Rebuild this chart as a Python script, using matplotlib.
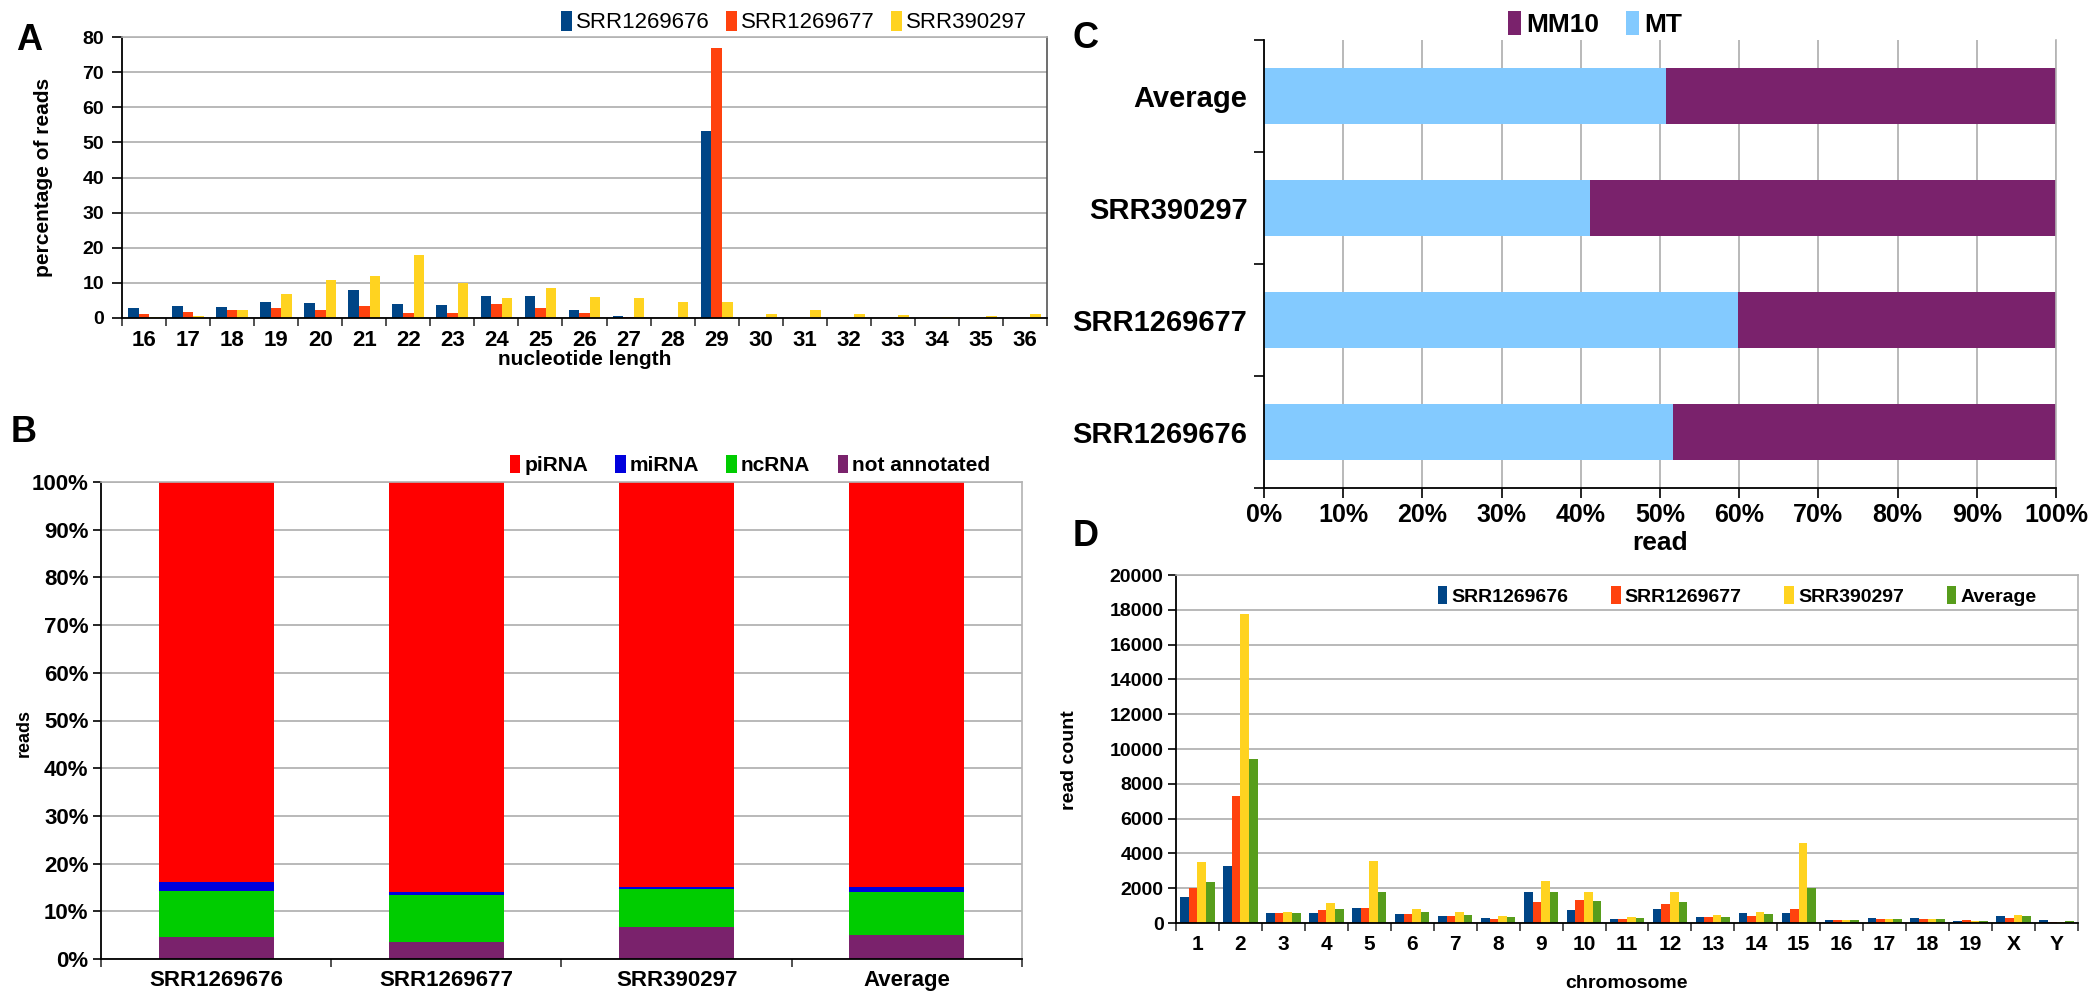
import matplotlib
matplotlib.use("Agg")
import matplotlib.pyplot as plt
import numpy as np
from matplotlib.patches import Patch

plt.rcParams["font.family"] = ["Liberation Sans", "DejaVu Sans"]
plt.rcParams["font.weight"] = "bold"

# ---- data -------------------------------------------------------------
samples = ["SRR1269676", "SRR1269677", "SRR390297"]

# A: read length distribution (% of reads)
lengths = [str(n) for n in range(16, 37)]
len_1269676 = [2.9, 3.3, 3.0, 4.6, 4.3, 7.9, 4.1, 3.6, 6.4, 6.3, 2.3, 0.7, 0, 53.3,
               0, 0, 0, 0, 0, 0, 0]
len_1269677 = [1.2, 1.6, 2.2, 2.9, 2.2, 3.3, 1.5, 1.4, 3.9, 2.8, 1.5, 0.3, 0, 77.0,
               0, 0, 0, 0, 0, 0, 0]
len_390297 = [0.3, 0.6, 2.2, 6.9, 10.9, 12.0, 18.0, 10.0, 5.8, 8.5, 5.9, 5.8, 4.5, 4.5,
              1.1, 2.4, 1.0, 0.9, 0.3, 0.7, 1.2]

# B: annotation shares (%)
annot_groups = ["SRR1269676", "SRR1269677", "SRR390297", "Average"]
not_annotated = [4.7, 3.5, 6.7, 5.0]
ncrna = [9.6, 9.9, 8.0, 9.1]
mirna = [1.8, 0.7, 0.3, 0.9]
pirna = [83.9, 85.9, 85.0, 85.0]

# C: MT vs MM10 (%)
map_groups = ["SRR1269676", "SRR1269677", "SRR390297", "Average"]
mt_share = [51.6, 59.8, 41.2, 50.8]
mm10_share = [48.4, 40.2, 58.8, 49.2]

# D: read count per chromosome
chromosomes = [str(n) for n in range(1, 20)] + ["X", "Y"]
chr_1269676 = [1470, 3290, 575, 575, 880, 500, 380, 305, 1760, 765, 250, 820, 345,
               555, 555, 170, 270, 290, 135, 420, 190]
chr_1269677 = [1990, 7300, 575, 725, 880, 535, 380, 230, 1205, 1300, 250, 1090, 345,
               400, 785, 190, 230, 210, 155, 290, 60]
chr_390297 = [3480, 17780, 650, 1150, 3560, 800, 650, 420, 2390, 1780, 365, 1780, 440,
              650, 4610, 190, 210, 230, 135, 440, 40]
chr_average = [2330, 9445, 590, 820, 1780, 610, 460, 325, 1800, 1280, 290, 1225, 365,
               535, 1990, 190, 250, 250, 135, 380, 115]

# ---- style ------------------------------------------------------------
BLUE, RED, YELLOW, GREEN = "#004586", "#ff420e", "#ffd320", "#579d1c"
PI_RED, MI_BLUE, NC_GREEN, PURPLE = "#ff0000", "#0000dd", "#00cc00", "#7a226c"
MT_BLUE = "#83caff"
GRID = "#b3b3b3"

W, H = 2093, 994
fig = plt.figure(figsize=(W / 100, H / 100), dpi=100)


def box(left, right, top, bottom):
    return [left / W, 1 - bottom / H, (right - left) / W, (bottom - top) / H]


def frame(ax, right_color=GRID):
    ax.set_axisbelow(True)
    for s in ("left", "bottom"):
        ax.spines[s].set_color("black")
        ax.spines[s].set_linewidth(1.3)
    ax.spines["top"].set_color(GRID)
    ax.spines["right"].set_color(right_color)
    ax.spines["top"].set_linewidth(1.2)
    ax.spines["right"].set_linewidth(1.2)


def cat_ticks(ax, n, labels, size, pad):
    x = np.arange(n)
    ax.set_xticks(x)
    ax.set_xticklabels(labels, fontsize=size, fontweight="bold")
    ax.set_xticks(np.arange(n + 1) - 0.5, minor=True)
    ax.tick_params(axis="x", which="major", length=0, pad=pad)
    ax.tick_params(axis="x", which="minor", length=6, width=1.2, color="#333333")
    ax.set_xlim(-0.5, n - 0.5)


def sq_handles(colors, names):
    return [Patch(facecolor=c, edgecolor="none", label=n) for c, n in zip(colors, names)]


# ---- A ----------------------------------------------------------------
axA = fig.add_axes(box(122, 1047, 37, 318))
xa = np.arange(len(lengths))
wa = 0.24
for i, (vals, col) in enumerate([(len_1269676, BLUE), (len_1269677, RED),
                                 (len_390297, YELLOW)]):
    axA.bar(xa + (i - 1) * wa, vals, wa, color=col)
axA.set_ylim(0, 80)
axA.set_yticks(range(0, 81, 10))
axA.tick_params(axis="y", labelsize=14, length=7, width=1.2, pad=6)
axA.yaxis.grid(True, color=GRID, lw=1.3)
cat_ticks(axA, len(lengths), lengths, 16, 9)
frame(axA, right_color="#555555")
fig.text(44 / W, 1 - 177 / H, "percentage of reads", rotation=90, ha="center",
         va="center", fontsize=15)
fig.text(585 / W, 1 - 360 / H, "nucleotide length", ha="center", va="center",
         fontsize=15)
fig.legend(handles=sq_handles([BLUE, RED, YELLOW], samples), loc="center",
           bbox_to_anchor=(794 / W, 1 - 22 / H), ncol=3, frameon=False,
           prop={"size": 16, "weight": "normal"}, handlelength=0.5,
           handleheight=1.0, handletextpad=0.2, columnspacing=0.7,
           borderpad=0)

# ---- B ----------------------------------------------------------------
axB = fig.add_axes(box(101, 1022, 482, 959))
xb = np.arange(len(annot_groups))
bottom = np.zeros(len(annot_groups))
for vals, col in [(not_annotated, PURPLE), (ncrna, NC_GREEN), (mirna, MI_BLUE),
                  (pirna, PI_RED)]:
    axB.bar(xb, vals, 0.5, bottom=bottom, color=col)
    bottom += np.array(vals)
axB.set_ylim(0, 100)
axB.set_yticks(range(0, 101, 10))
axB.set_yticklabels([f"{v}%" for v in range(0, 101, 10)])
axB.tick_params(axis="y", labelsize=16, length=6, width=1.2, pad=3)
axB.yaxis.grid(True, color=GRID, lw=1.3)
cat_ticks(axB, len(annot_groups), annot_groups, 16, 8)
frame(axB)
fig.text(24 / W, 1 - 733 / H, "reads", rotation=90, ha="center", va="center",
         fontsize=13)
fig.legend(handles=sq_handles([PI_RED, MI_BLUE, NC_GREEN, PURPLE],
                              ["piRNA", "miRNA", "ncRNA", "not annotated"]),
           loc="center", bbox_to_anchor=(750 / W, 1 - 465 / H), ncol=4,
           frameon=False, prop={"size": 15, "weight": "bold"}, handlelength=0.5,
           handleheight=1.0, handletextpad=0.2, columnspacing=1.3, borderpad=0)

# ---- C ----------------------------------------------------------------
axC = fig.add_axes(box(1264, 2056, 40, 488))
yc = np.arange(len(map_groups))
axC.barh(yc, mt_share, 0.5, color=MT_BLUE)
axC.barh(yc, mm10_share, 0.5, left=mt_share, color=PURPLE)
axC.set_xlim(0, 100)
axC.set_xticks(range(0, 101, 10))
axC.set_xticklabels([f"{v}%" for v in range(0, 101, 10)])
axC.tick_params(axis="x", labelsize=18, length=7, width=1.2, pad=4)
axC.xaxis.grid(True, color=GRID, lw=1.3)
axC.set_yticks(yc)
axC.set_yticklabels(map_groups, fontsize=21, fontweight="bold")
axC.set_yticks(np.arange(len(map_groups) + 1) - 0.5, minor=True)
axC.tick_params(axis="y", which="major", length=0, pad=12)
axC.tick_params(axis="y", which="minor", length=7, width=1.2)
axC.set_ylim(-0.5, len(map_groups) - 0.5)
frame(axC)
axC.spines["top"].set_visible(False)
fig.text(1660 / W, 1 - 543 / H, "read", ha="center", va="center", fontsize=19)
fig.legend(handles=sq_handles([PURPLE, MT_BLUE], ["MM10", "MT"]), loc="center",
           bbox_to_anchor=(1595 / W, 1 - 24 / H), ncol=2, frameon=False,
           prop={"size": 19, "weight": "bold"}, handlelength=0.5,
           handleheight=1.0, handletextpad=0.2, columnspacing=1.0, borderpad=0)

# ---- D ----------------------------------------------------------------
axD = fig.add_axes(box(1176, 2078, 575, 923))
xd = np.arange(len(chromosomes))
wd = 0.2
for i, (vals, col) in enumerate([(chr_1269676, BLUE), (chr_1269677, RED),
                                 (chr_390297, YELLOW), (chr_average, GREEN)]):
    axD.bar(xd + (i - 1.5) * wd, vals, wd, color=col)
axD.set_ylim(0, 20000)
axD.set_yticks(range(0, 20001, 2000))
axD.tick_params(axis="y", labelsize=14, length=6, width=1.2, pad=3)
axD.yaxis.grid(True, color=GRID, lw=1.3)
cat_ticks(axD, len(chromosomes), chromosomes, 15, 9)
frame(axD)
fig.text(1070 / W, 1 - 760 / H, "read count", rotation=90, ha="center",
         va="center", fontsize=14)
fig.text(1627 / W, 1 - 983 / H, "chromosome", ha="center", va="center",
         fontsize=14)
fig.legend(handles=sq_handles([BLUE, RED, YELLOW, GREEN], samples + ["Average"]),
           loc="center", bbox_to_anchor=(1737 / W, 1 - 596 / H), ncol=4,
           frameon=False, prop={"size": 14, "weight": "bold"}, handlelength=0.5,
           handleheight=1.0, handletextpad=0.2, columnspacing=2.2, borderpad=0)

# panel letters
for letter, px, py in [("A", 29, 40), ("B", 24, 432), ("C", 1086, 38),
                       ("D", 1086, 536)]:
    fig.text(px / W, 1 - py / H, letter, ha="center", va="center", fontsize=26,
             fontweight="bold")

fig.savefig("out.png", dpi=100)
